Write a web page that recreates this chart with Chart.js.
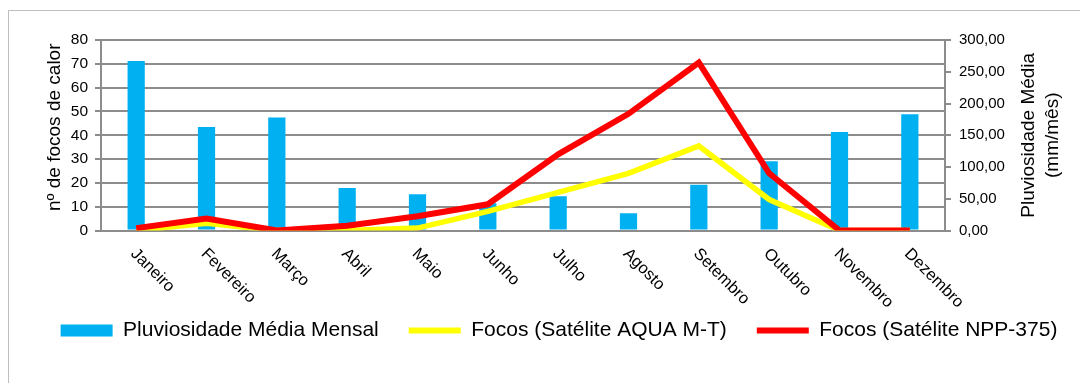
<!DOCTYPE html>
<html>
<head>
<meta charset="utf-8">
<script src="https://cdn.jsdelivr.net/npm/chart.js@4.4.1/dist/chart.umd.min.js"></script>
<style>
  html, body { margin: 0; padding: 0; background: #fff; overflow: hidden; width: 1080px; height: 383px; }
  #frame { position: absolute; left: 8px; top: 10px; width: 1100px; height: 400px; border: 1px solid #bfbfbf; }
  #wrap { position: absolute; left: 0; top: 0; width: 1118px; height: 383px; }
</style>
</head>
<body>
<div id="frame"></div>
<div id="wrap"><canvas id="myChart"></canvas></div>
<script>
  // Datos
  var meses = ['Janeiro', 'Fevereiro', 'Março', 'Abril', 'Maio', 'Junho', 'Julho', 'Agosto', 'Setembro', 'Outubro', 'Novembro', 'Dezembro'];
  var pluviosidade = [267, 163, 178, 67, 57, 43, 54, 27, 72, 109, 155, 183];
  var focosAqua = [0, 3, 0, 0, 1, 8, 16, 24, 35.5, 13, 0, 0];
  var focosNpp = [1, 5, 0, 2, 6, 11, 32, 49, 70.5, 24, 0, 0];
  var ticksFocos = [0, 10, 20, 30, 40, 50, 60, 70, 80];
  var ticksChuva = [0, 50, 100, 150, 200, 250, 300];

  var grade = '#8c8c8c';

  // Textos desenhados à mão (rótulos inclinados e títulos dos eixos)
  var textos = {
    id: 'textos',
    afterDraw: function (chart) {
      var ctx = chart.ctx;
      var x = chart.scales.x;
      var area = chart.chartArea;
      ctx.save();
      ctx.fillStyle = '#000';
      ctx.font = '16.5px "Liberation Sans", Arial, sans-serif';
      ctx.textAlign = 'left';
      ctx.textBaseline = 'top';
      meses.forEach(function (m, i) {
        var px = x.getPixelForValue(i);
        ctx.save();
        ctx.translate(px + 3, area.bottom + 15);
        ctx.rotate(Math.PI / 4);
        ctx.fillText(m, 0, 0);
        ctx.restore();
      });
      ctx.font = '19px "Liberation Sans", Arial, sans-serif';
      ctx.textAlign = 'center';
      ctx.textBaseline = 'middle';
      var cy = (area.top + area.bottom) / 2;
      ctx.save();
      ctx.translate(55, cy - 8);
      ctx.rotate(-Math.PI / 2);
      ctx.fillText('nº de focos de calor', 0, 0);
      ctx.restore();
      ctx.save();
      ctx.translate(1029, cy);
      ctx.rotate(-Math.PI / 2);
      ctx.fillText('Pluviosidade Média', 0, 0);
      ctx.fillText('(mm/mês)', 0, 24);
      ctx.restore();
      ctx.restore();
    }
  };

  var data = {
    labels: meses,
    datasets: [{
      type: 'bar',
      label: 'Pluviosidade Média Mensal',
      data: pluviosidade,
      yAxisID: 'y1',
      backgroundColor: '#00b0f0',
      barPercentage: 0.245,
      categoryPercentage: 1,
      order: 3
    }, {
      type: 'line',
      label: 'Focos (Satélite AQUA M-T)',
      data: focosAqua,
      yAxisID: 'y',
      borderColor: '#ffff00',
      backgroundColor: '#ffff00',
      borderWidth: 5.5,
      pointRadius: 0,
      tension: 0,
      order: 2
    }, {
      type: 'line',
      label: 'Focos (Satélite NPP-375)',
      data: focosNpp,
      yAxisID: 'y',
      borderColor: '#ff0000',
      backgroundColor: '#ff0000',
      borderWidth: 6,
      pointRadius: 0,
      tension: 0,
      order: 1
    }]
  };

  var options = {
    responsive: true,
    maintainAspectRatio: false,
    animation: false,
    layout: { padding: { top: 40, left: 0, right: 0, bottom: 32 } },
    plugins: {
      tooltip: { enabled: false },
      legend: {
        position: 'bottom',
        labels: {
          color: '#000',
          font: { size: 21, family: '"Liberation Sans", Arial, sans-serif' },
          usePointStyle: true,
          pointStyleWidth: 52,
          boxHeight: 12,
          padding: 30,
          generateLabels: function (chart) {
            return chart.data.datasets.map(function (ds, i) {
              var isBar = ds.type === 'bar';
              return {
                text: ds.label,
                fillStyle: ds.backgroundColor,
                strokeStyle: ds.borderColor || ds.backgroundColor,
                lineWidth: isBar ? 0 : 6,
                pointStyle: isBar ? 'rect' : 'line',
                fontColor: '#000',
                datasetIndex: i
              };
            });
          }
        }
      }
    },
    scales: {
      x: {
        offset: true,
        grid: { display: false },
        border: { color: grade, width: 2 },
        ticks: { display: false },
        afterFit: function (s) { s.height = 59.5; }
      },
      y: {
        position: 'left',
        min: 0,
        max: 80,
        afterBuildTicks: function (s) { s.ticks = ticksFocos.map(function (v) { return { value: v }; }); },
        grid: { color: grade, lineWidth: 2, tickLength: 6, drawOnChartArea: true },
        border: { color: grade, width: 2 },
        ticks: {
          color: '#000',
          padding: 7,
          font: { size: 15.5, family: '"Liberation Sans", Arial, sans-serif' }
        },
        afterFit: function (s) { s.width = 101; }
      },
      y1: {
        position: 'right',
        min: 0,
        max: 300,
        afterBuildTicks: function (s) { s.ticks = ticksChuva.map(function (v) { return { value: v }; }); },
        grid: { color: grade, lineWidth: 2, tickLength: 6, drawOnChartArea: false },
        border: { color: grade, width: 2 },
        ticks: {
          color: '#000',
          padding: 8,
          font: { size: 15, family: '"Liberation Sans", Arial, sans-serif' },
          callback: function (v) { return v.toFixed(2).replace('.', ','); }
        },
        afterFit: function (s) { s.width = 1118 - 945; }
      }
    }
  };

  var ctx = document.getElementById('myChart').getContext('2d');
  var myChart = new Chart(ctx, {
    data: data,
    options: options,
    plugins: [textos]
  });
</script>
</body>
</html>
